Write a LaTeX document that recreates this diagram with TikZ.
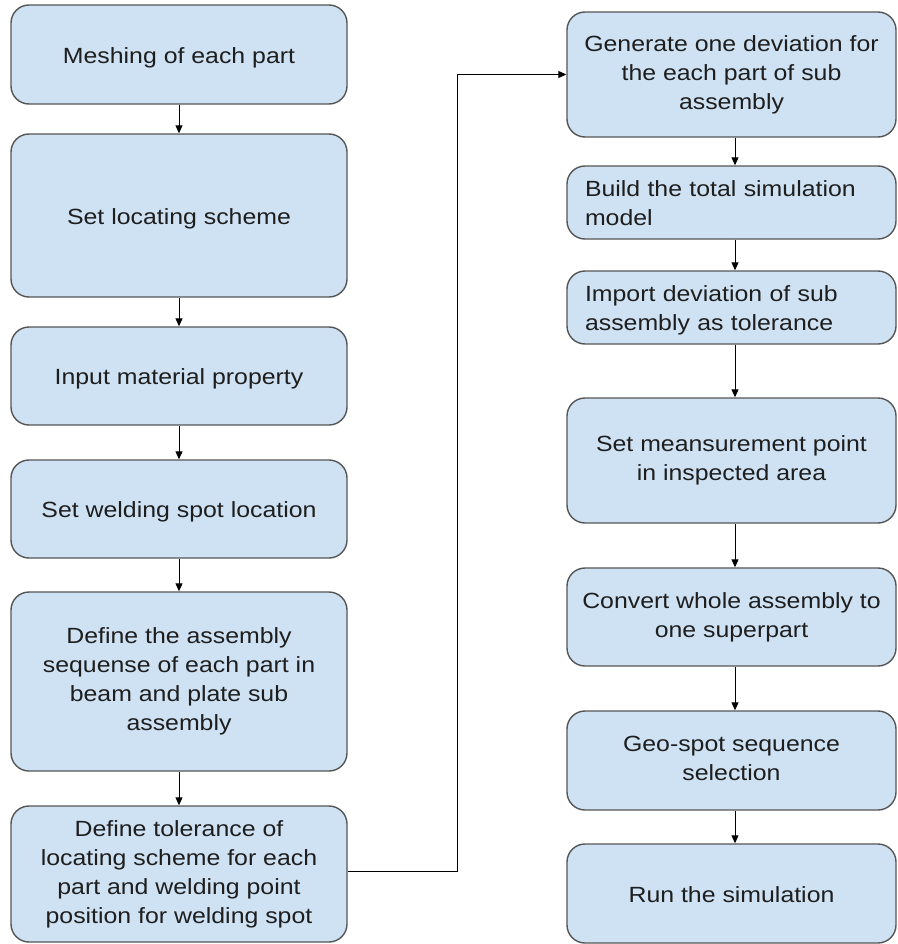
\documentclass[tikz,border=0pt]{standalone}
\usepackage{fontspec}
\setmainfont{Liberation Sans}[FakeStretch=1.13]
\usetikzlibrary{arrows.meta}
\definecolor{boxfill}{HTML}{CFE2F3}
\definecolor{boxline}{HTML}{555555}
\definecolor{inktext}{HTML}{1E1E1E}
% fixed first-line height and last-line depth so every label sits alike
\newcommand{\toprule}{\rule{0pt}{22pt}}
\newcommand{\botrule}{\rule[-4.4pt]{0pt}{4.4pt}}
\begin{document}
\begin{tikzpicture}[x=1pt,y=-1pt,
  stepbox/.style={draw=boxline, line width=1.4pt, fill=boxfill, rounded corners=18pt,
    rectangle, inner sep=0pt, text=inktext, align=center,
    font=\fontsize{22}{29}\selectfont,
    execute at begin node=\toprule, execute at end node=\botrule},
  leftcol/.style={stepbox, minimum width=336pt},
  rightcol/.style={stepbox, minimum width=329pt},
  leftfill/.style={rightcol, align=left, text width=293pt},
  flow/.style={draw=black, line width=1pt, -{Triangle[length=8pt,width=7pt]}}]
\useasboundingbox (0,0) rectangle (897,944);

% left column
\node[leftcol, minimum height=99pt]  (L1) at (179,54.5) {Meshing of each part};
\node[leftcol, minimum height=163pt] (L2) at (179,215.5) {Set locating scheme};
\node[leftcol, minimum height=98pt]  (L3) at (179,376) {Input material property};
\node[leftcol, minimum height=98pt]  (L4) at (179,509) {Set welding spot location};
\node[leftcol, minimum height=179pt] (L5) at (179,681.5) {Define the assembly\\sequense of each part in\\beam and plate sub\\assembly};
\node[leftcol, minimum height=136pt] (L6) at (179,874) {Define tolerance of\\locating scheme for each\\part and welding point\\position for welding spot};

% right column
\node[rightcol, minimum height=125pt] (R1) at (731.5,74.5) {Generate one deviation for\\the each part of sub\\assembly};
\node[leftfill, minimum height=73pt]  (R2) at (731.5,202.5) {Build the total simulation\\model};
\node[leftfill, minimum height=73pt]  (R3) at (731.5,307.5) {Import deviation of sub\\assembly as tolerance};
\node[rightcol, minimum height=125pt] (R4) at (731.5,460.5) {Set meansurement point\\in inspected area};
\node[rightcol, minimum height=98pt]  (R5) at (731.5,617) {Convert whole assembly to\\one superpart};
\node[rightcol, minimum height=99pt]  (R6) at (731.5,760.5) {Geo-spot sequence\\selection};
\node[rightcol, minimum height=99pt]  (R7) at (731.5,893.5) {Run the simulation};

% arrows down the left column
\foreach \a/\b in {L1/L2, L2/L3, L3/L4, L4/L5, L5/L6}
  \draw[flow] (\a.south) -- (\b.north);

% arrows down the right column
\foreach \a/\b in {R1/R2, R2/R3, R3/R4, R4/R5, R5/R6, R6/R7}
  \draw[flow] ([xshift=3.5pt]\a.south) -- ([xshift=3.5pt]\b.north);

% link from the last left step to the first right step
\draw[flow] ([yshift=3pt]L6.east) -- ++(110,0) |- (R1.west);
\end{tikzpicture}
\end{document}
